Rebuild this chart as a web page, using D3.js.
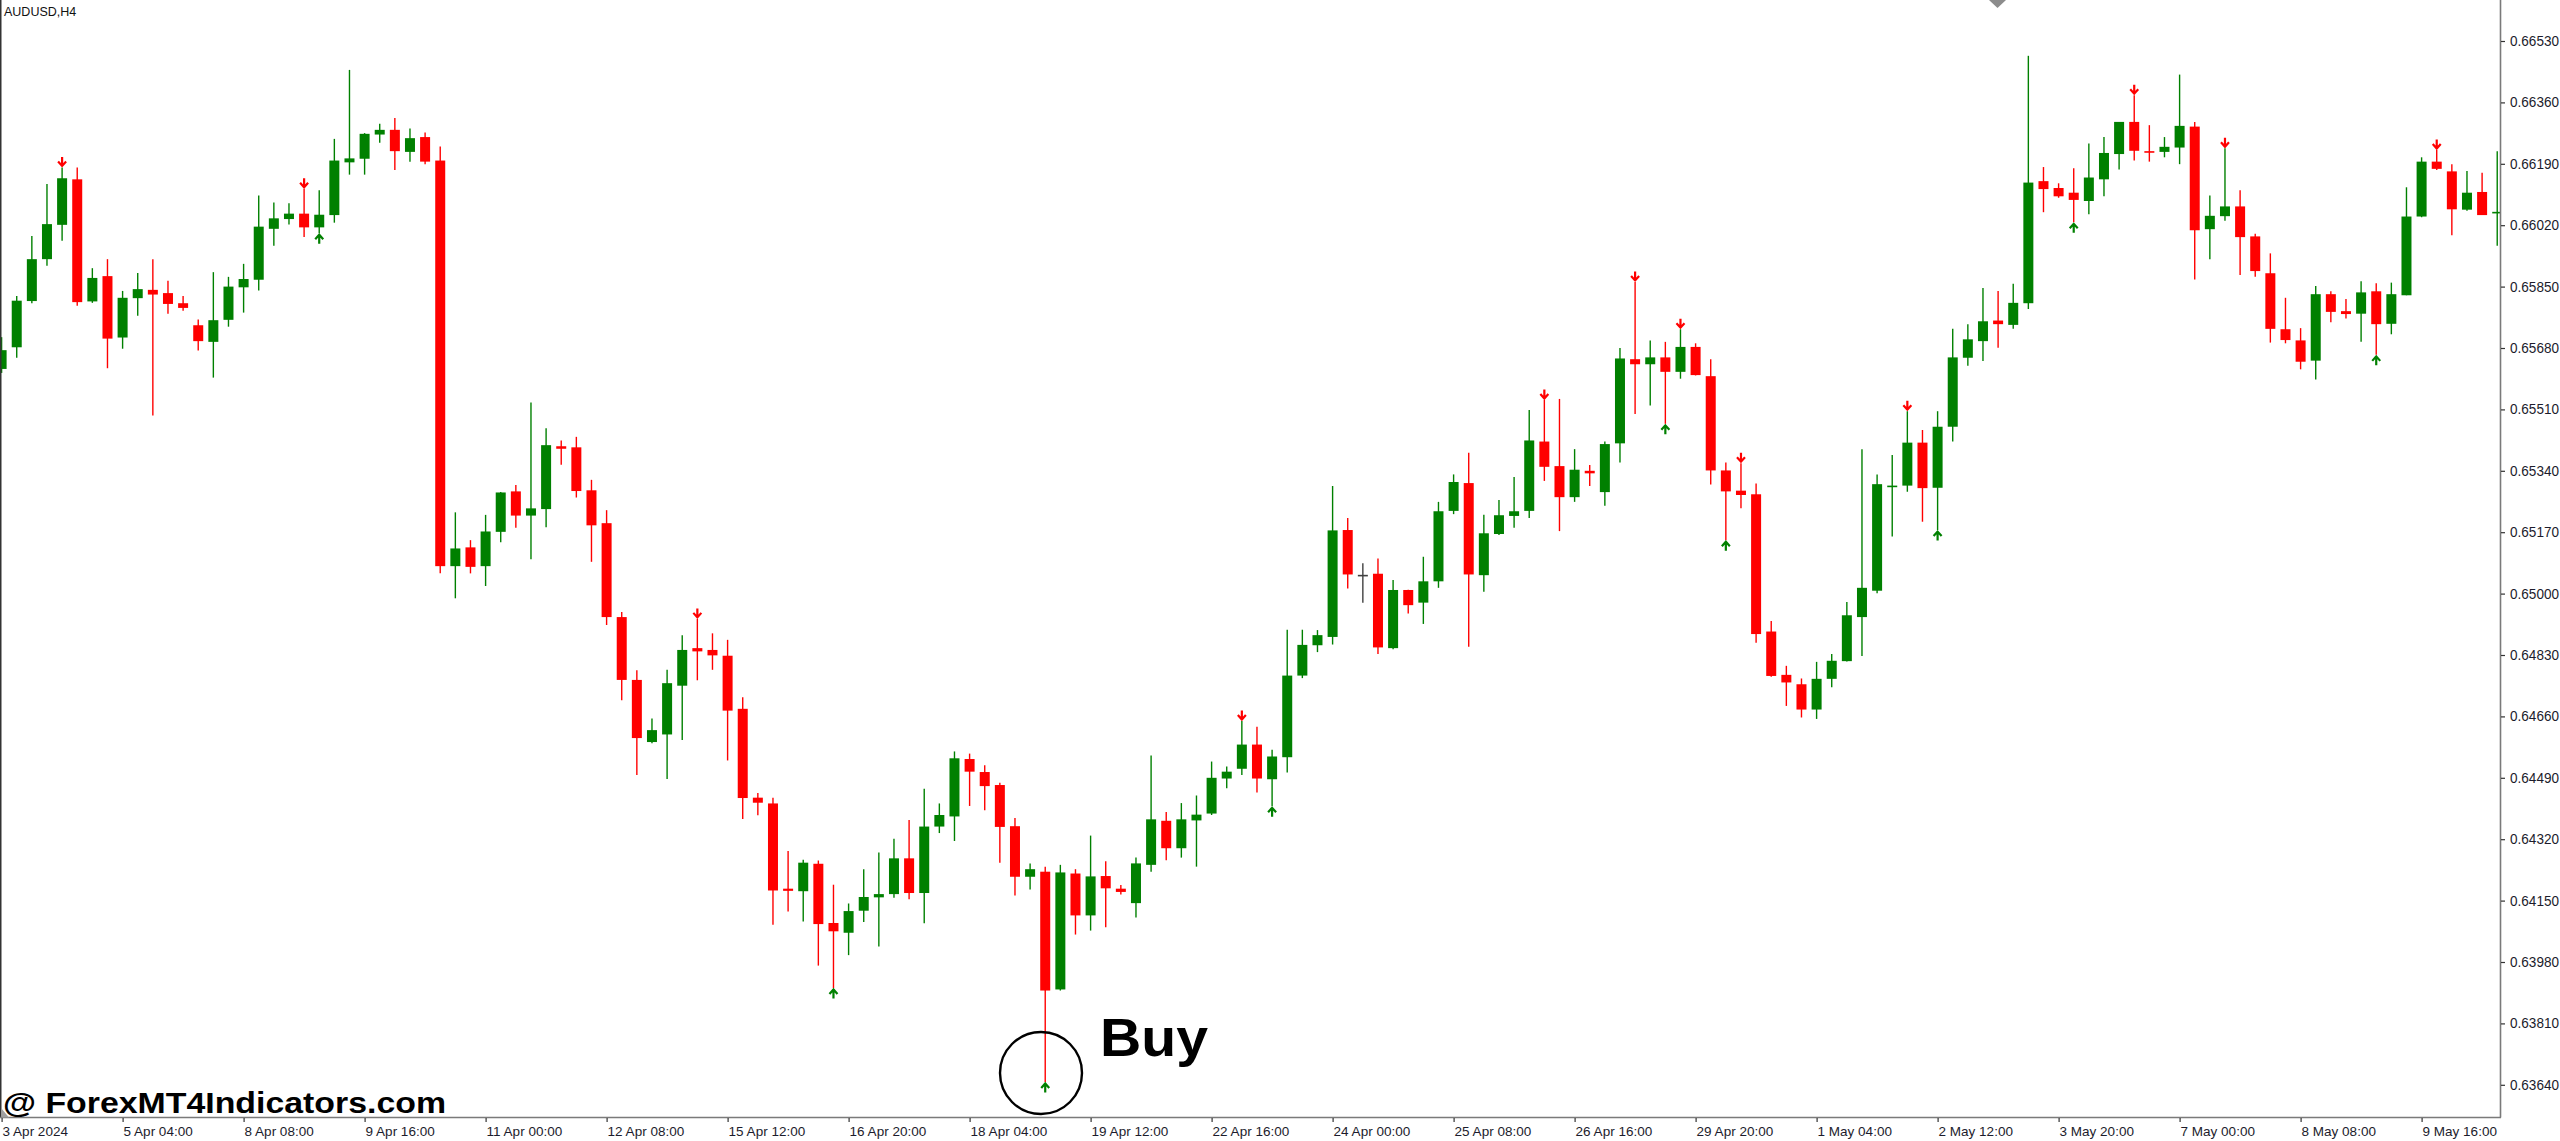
<!DOCTYPE html>
<html><head><meta charset="utf-8">
<script src="https://cdn.jsdelivr.net/npm/d3@7"></script>
<style>html,body{margin:0;padding:0;background:#fff;overflow:hidden}</style>
</head><body>
<svg id="c" width="2560" height="1141"></svg>
<script>
const symbolTitle = "AUDUSD,H4";
const watermark = "@ ForexMT4Indicators.com";
const signalText = "Buy";
const timeLabels = ["3 Apr 2024","5 Apr 04:00","8 Apr 08:00","9 Apr 16:00","11 Apr 00:00","12 Apr 08:00","15 Apr 12:00","16 Apr 20:00","18 Apr 04:00","19 Apr 12:00","22 Apr 16:00","24 Apr 00:00","25 Apr 08:00","26 Apr 16:00","29 Apr 20:00","1 May 04:00","2 May 12:00","3 May 20:00","7 May 00:00","8 May 08:00","9 May 16:00"];
const priceTicks = [0.66530,0.66360,0.66190,0.66020,0.65850,0.65680,0.65510,0.65340,0.65170,0.65000,0.64830,0.64660,0.64490,0.64320,0.64150,0.63980,0.63810,0.63640];
const opens = [0.65622,0.65682,0.65810,0.65926,0.66021,0.66147,0.65809,0.65879,0.65709,0.65818,0.65841,0.65832,0.65804,0.65743,0.65697,0.65758,0.65848,0.65869,0.66010,0.66037,
0.66052,0.66014,0.66048,0.66194,0.66204,0.66271,0.66284,0.66223,0.66264,0.66199,0.65076,0.65128,0.65076,0.65171,0.65283,0.65216,0.65234,0.65408,0.65405,0.65286,
0.65195,0.64935,0.64761,0.64589,0.64610,0.64745,0.64849,0.64844,0.64828,0.64681,0.64435,0.64419,0.64183,0.64176,0.64252,0.64088,0.64061,0.64122,0.64159,0.64168,
0.64267,0.64171,0.64355,0.64383,0.64542,0.64506,0.64470,0.64356,0.64216,0.64230,0.63904,0.64225,0.64109,0.64218,0.64183,0.64143,0.64249,0.64371,0.64295,0.64372,
0.64391,0.64488,0.64515,0.64582,0.64486,0.64547,0.64773,0.64857,0.64880,0.65176,0.65052,0.65055,0.64849,0.65010,0.64975,0.65034,0.65229,0.65306,0.65051,0.65165,
0.65215,0.65229,0.65421,0.65353,0.65267,0.65340,0.65281,0.65416,0.65649,0.65635,0.65654,0.65614,0.65683,0.65602,0.65341,0.65285,0.65275,0.64895,0.64775,0.64749,
0.64679,0.64764,0.64813,0.64935,0.65008,0.65296,0.65299,0.65418,0.65293,0.65462,0.65653,0.65699,0.65756,0.65744,0.65804,0.66142,0.66123,0.66110,0.66087,0.66147,
0.66217,0.66306,0.66225,0.66223,0.66235,0.66293,0.66009,0.66045,0.66072,0.65989,0.65887,0.65732,0.65701,0.65645,0.65829,0.65782,0.65775,0.65837,0.65747,0.65826,
0.66044,0.66196,0.66169,0.66063,0.66112,0.66053];
const highs = [0.65710,0.65824,0.65990,0.66134,0.66180,0.66180,0.65901,0.65926,0.65838,0.65888,0.65926,0.65866,0.65824,0.65759,0.65890,0.65877,0.65913,0.66102,0.66083,0.66081,
0.66121,0.66117,0.66259,0.66450,0.66275,0.66301,0.66317,0.66288,0.66277,0.66238,0.65225,0.65148,0.65218,0.65281,0.65301,0.65529,0.65458,0.65424,0.65434,0.65315,
0.65231,0.64949,0.64788,0.64654,0.64789,0.64885,0.64930,0.64890,0.64872,0.64713,0.64448,0.64435,0.64287,0.64263,0.64261,0.64194,0.64142,0.64237,0.64283,0.64321,
0.64373,0.64460,0.64419,0.64563,0.64557,0.64525,0.64476,0.64379,0.64253,0.64244,0.64249,0.64237,0.64330,0.64259,0.64193,0.64269,0.64552,0.64395,0.64420,0.64441,
0.64535,0.64521,0.64647,0.64631,0.64568,0.64900,0.64900,0.64899,0.65298,0.65209,0.65084,0.65097,0.65038,0.65011,0.65102,0.65254,0.65330,0.65390,0.65218,0.65259,
0.65323,0.65508,0.65536,0.65539,0.65400,0.65356,0.65421,0.65680,0.65863,0.65701,0.65697,0.65732,0.65693,0.65649,0.65363,0.65361,0.65305,0.64924,0.64800,0.64765,
0.64811,0.64833,0.64977,0.65400,0.65330,0.65384,0.65505,0.65453,0.65505,0.65733,0.65746,0.65846,0.65838,0.65858,0.66489,0.66181,0.66136,0.66178,0.66246,0.66264,
0.66306,0.66380,0.66297,0.66264,0.66437,0.66306,0.66102,0.66233,0.66117,0.65996,0.65942,0.65819,0.65735,0.65852,0.65837,0.65816,0.65865,0.65859,0.65861,0.66125,
0.66208,0.66228,0.66189,0.66170,0.66165,0.66225];
const lows = [0.65611,0.65653,0.65804,0.65908,0.65977,0.65797,0.65805,0.65624,0.65678,0.65769,0.65493,0.65775,0.65783,0.65673,0.65598,0.65739,0.65778,0.65839,0.65963,0.66022,
0.65987,0.65998,0.66027,0.66160,0.66160,0.66248,0.66173,0.66196,0.66189,0.65056,0.64987,0.65056,0.65021,0.65142,0.65182,0.65095,0.65184,0.65357,0.65266,0.65088,
0.64913,0.64705,0.64498,0.64586,0.64487,0.64595,0.64760,0.64789,0.64538,0.64376,0.64386,0.64083,0.64120,0.64092,0.63970,0.63908,0.63999,0.64091,0.64023,0.64158,
0.64154,0.64087,0.64337,0.64315,0.64412,0.64400,0.64255,0.64164,0.64181,0.63648,0.63901,0.64056,0.64067,0.64076,0.64167,0.64103,0.64230,0.64262,0.64269,0.64244,
0.64387,0.64461,0.64498,0.64449,0.64411,0.64505,0.64766,0.64838,0.64859,0.65014,0.64975,0.64833,0.64846,0.64945,0.64916,0.65016,0.65220,0.64853,0.65005,0.65162,
0.65182,0.65209,0.65312,0.65173,0.65254,0.65298,0.65243,0.65363,0.65497,0.65521,0.65470,0.65595,0.65604,0.65302,0.65148,0.65236,0.64864,0.64770,0.64689,0.64657,
0.64653,0.64741,0.64812,0.64827,0.65001,0.65158,0.65282,0.65199,0.65176,0.65421,0.65631,0.65644,0.65681,0.65733,0.65788,0.66056,0.66096,0.66028,0.66050,0.66100,
0.66174,0.66199,0.66196,0.66208,0.66189,0.65870,0.65926,0.66032,0.65882,0.65877,0.65695,0.65693,0.65621,0.65593,0.65751,0.65762,0.65697,0.65661,0.65718,0.65826,
0.66042,0.66173,0.65992,0.66060,0.66048,0.65963];
const closes = [0.65674,0.65811,0.65926,0.66023,0.66150,0.65807,0.65874,0.65706,0.65819,0.65843,0.65828,0.65802,0.65791,0.65699,0.65757,0.65850,0.65871,0.66016,0.66039,0.66052,
0.66014,0.66049,0.66199,0.66205,0.66273,0.66284,0.66225,0.66261,0.66196,0.65076,0.65125,0.65074,0.65172,0.65280,0.65216,0.65236,0.65411,0.65401,0.65284,0.65189,
0.64935,0.64761,0.64600,0.64622,0.64752,0.64844,0.64840,0.64829,0.64676,0.64434,0.64421,0.64178,0.64177,0.64255,0.64085,0.64065,0.64121,0.64160,0.64168,0.64267,
0.64171,0.64355,0.64387,0.64544,0.64507,0.64467,0.64354,0.64216,0.64237,0.63901,0.64228,0.64109,0.64217,0.64184,0.64174,0.64253,0.64375,0.64295,0.64375,0.64388,
0.64490,0.64507,0.64582,0.64488,0.64549,0.64773,0.64858,0.64885,0.65175,0.65053,0.65052,0.64851,0.65010,0.64968,0.65034,0.65228,0.65309,0.65053,0.65167,0.65217,
0.65228,0.65424,0.65351,0.65267,0.65343,0.65333,0.65414,0.65651,0.65635,0.65654,0.65614,0.65683,0.65605,0.65341,0.65283,0.65273,0.64888,0.64772,0.64754,0.64679,
0.64764,0.64814,0.64940,0.65016,0.65303,0.65299,0.65418,0.65292,0.65462,0.65654,0.65704,0.65754,0.65746,0.65805,0.66138,0.66120,0.66100,0.66090,0.66152,0.66220,
0.66306,0.66226,0.66221,0.66237,0.66295,0.66006,0.66046,0.66072,0.65987,0.65893,0.65733,0.65702,0.65642,0.65829,0.65780,0.65774,0.65834,0.65746,0.65829,0.66044,
0.66196,0.66176,0.66064,0.66110,0.66048,0.66057];
const sellSignals = [4,20,46,82,102,108,111,115,126,141,147,161];
const buySignals = [21,55,69,84,110,114,128,137,157];
const labelStep = 8;

const W = 2560, H = 1141;
const plotRight = 2500, plotBottom = 1117.5;
const n = opens.length;
const svg = d3.select("#c");
svg.append("rect").attr("width", W).attr("height", H).attr("fill", "#fff");

const x = d3.scaleLinear().domain([0, n - 1]).range([1.6, 1.6 + 15.125 * (n - 1)]);
const y = d3.scaleLinear().domain([0.63640, 0.66530]).range([1084.8, 41]);

const UP = "#008000", DOWN = "#ff0000", DOJI = "#404040";
const candles = d3.range(n).map(i => ({i, o: opens[i], h: highs[i], l: lows[i], c: closes[i]}));
const col = d => d.c > d.o ? UP : (d.c < d.o ? DOWN : DOJI);

svg.append("clipPath").attr("id", "plot").append("rect")
  .attr("x", 0).attr("y", 0).attr("width", plotRight).attr("height", plotBottom);
const g = svg.append("g").attr("clip-path", "url(#plot)");

g.selectAll("line.wick").data(candles).enter().append("line")
  .attr("class", "wick")
  .attr("x1", d => x(d.i)).attr("x2", d => x(d.i))
  .attr("y1", d => y(d.h)).attr("y2", d => y(d.l))
  .attr("stroke", col).attr("stroke-width", 1.4);

const bw = 10;
g.selectAll("rect.body").data(candles).enter().append("rect")
  .attr("class", "body")
  .attr("x", d => x(d.i) - bw / 2)
  .attr("width", bw)
  .attr("y", d => Math.min(y(d.o), y(d.c)))
  .attr("height", d => Math.max(1.6, Math.abs(y(d.o) - y(d.c))))
  .attr("fill", col);

// signal arrows
const downArrow = "M0,-10 L0,-1 M-4,-5.5 L0,-1 L4,-5.5";
const upArrow = "M0,10 L0,1 M-4,5.5 L0,1 L4,5.5";
g.selectAll("path.sell").data(sellSignals).enter().append("path")
  .attr("class", "sell")
  .attr("transform", i => `translate(${x(i)},${y(highs[i]) - 0.5})`)
  .attr("d", downArrow).attr("fill", "none").attr("stroke", DOWN).attr("stroke-width", 2.2);
g.selectAll("path.buy").data(buySignals).enter().append("path")
  .attr("class", "buy")
  .attr("transform", i => `translate(${x(i)},${y(lows[i]) + 0.5})`)
  .attr("d", upArrow).attr("fill", "none").attr("stroke", UP).attr("stroke-width", 2.2);

// frame
svg.append("line").attr("x1", 0.75).attr("x2", 0.75).attr("y1", 0).attr("y2", plotBottom)
  .attr("stroke", "#333").attr("stroke-width", 1.5);
svg.append("line").attr("x1", 0).attr("x2", plotRight + 1).attr("y1", plotBottom).attr("y2", plotBottom)
  .attr("stroke", "#7a7a7a").attr("stroke-width", 1.6);
svg.append("line").attr("x1", plotRight + 0.5).attr("x2", plotRight + 0.5).attr("y1", 0).attr("y2", plotBottom)
  .attr("stroke", "#7a7a7a").attr("stroke-width", 1.6);

// right price axis
const yAxis = d3.axisRight(y).tickValues(priceTicks).tickFormat(d3.format(".5f")).tickSize(4).tickPadding(5);
const ya = svg.append("g").attr("transform", `translate(${plotRight + 1},0)`).call(yAxis);
ya.select(".domain").remove();
ya.selectAll(".tick line").attr("stroke", "#333").attr("stroke-width", 1.2);
ya.selectAll(".tick text").attr("fill", "#1c1c2c")
  .style("font-family", "'Liberation Sans', Arial, sans-serif").style("font-size", "14px")
  .attr("textLength", 49).attr("lengthAdjust", "spacingAndGlyphs");

// bottom time axis
const labelIdx = timeLabels.map((_, k) => k * labelStep);
const xAxis = d3.axisBottom(x).tickValues(labelIdx).tickFormat((d, k) => timeLabels[k]).tickSize(4);
const xa = svg.append("g").attr("transform", `translate(0,${plotBottom + 0.5})`).call(xAxis);
xa.select(".domain").remove();
xa.selectAll(".tick line").attr("stroke", "#333").attr("stroke-width", 1.2);
xa.selectAll(".tick text").attr("fill", "#1c1c2c")
  .attr("text-anchor", "start").attr("x", 0.5).attr("y", 17.5).attr("dy", null)
  .style("font-family", "'Liberation Sans', Arial, sans-serif").style("font-size", "13.5px");

// chart shift marker
svg.append("path").attr("d", "M1989,0 L2006,0 L1997.5,8 Z").attr("fill", "#8c8c8c");
svg.append("path").attr("d", `M1.5,${plotBottom - 9} L1.5,${plotBottom} L9,${plotBottom} Z`).attr("fill", "#a0a0a0");

// title
svg.append("text").attr("x", 4).attr("y", 15.7).text(symbolTitle)
  .attr("fill", "#111").style("font-family", "'Liberation Sans', Arial, sans-serif").style("font-size", "12.5px");

// watermark
svg.append("text").attr("x", 3).attr("y", 1113).text(watermark)
  .attr("fill", "#000").style("font-family", "'Liberation Sans', Arial, sans-serif")
  .style("font-weight", "bold").style("font-size", "29px")
  .attr("textLength", 443).attr("lengthAdjust", "spacingAndGlyphs");

// buy annotation
svg.append("ellipse").attr("cx", 1041).attr("cy", 1073).attr("rx", 41).attr("ry", 41)
  .attr("fill", "none").attr("stroke", "#000").attr("stroke-width", 2.4);
svg.append("text").attr("x", 1100).attr("y", 1056).text(signalText)
  .attr("fill", "#000").style("font-family", "'Liberation Sans', Arial, sans-serif")
  .style("font-weight", "bold").style("font-size", "54px")
  .attr("textLength", 108).attr("lengthAdjust", "spacingAndGlyphs");
</script>
</body></html>
